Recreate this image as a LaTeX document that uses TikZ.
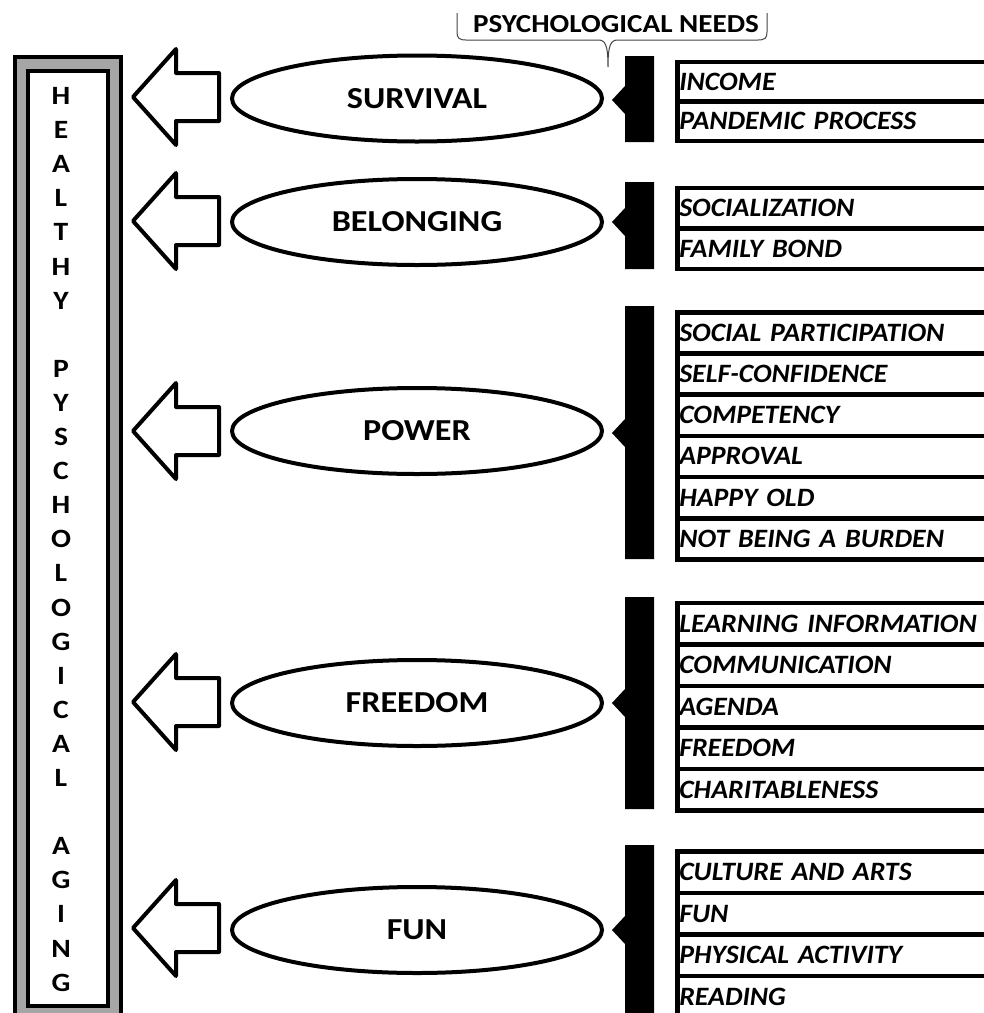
\documentclass[tikz,border=0pt]{standalone}
\usepackage{fontspec}
\setmainfont{Carlito}[FakeStretch=1.12]
\newfontfamily\itemfont{Carlito}[FakeStretch=1.05]
\usetikzlibrary{shapes.geometric}
\definecolor{framegray}{HTML}{A6A6A6}
\definecolor{bracegray}{HTML}{444444}
\tikzset{
  needell/.style={ellipse, draw, line width=4pt, minimum width=370pt, minimum height=86pt, inner sep=0pt, font=\fontsize{30.5}{36}\selectfont\bfseries},
  needitem/.style={rectangle, draw, line width=4.5pt, anchor=north west, minimum width=340pt, text width=336pt, inner sep=2pt, align=left, text height=17pt, text depth=0pt, font=\itemfont\fontsize{26.5}{32}\selectfont\bfseries\itshape},
  vletter/.style={font=\fontsize{26.4}{30}\selectfont\bfseries, inner sep=0pt},
  bigarrow/.style={draw, line width=4pt, line join=round, fill=white},
  framebox/.style={draw, line width=4pt, anchor=north west, inner sep=0pt},
}
\newcommand{\needarrow}[1]{\draw[bigarrow] (133,#1) -- (176,{#1-48}) -- (176,{#1-24}) -- (219,{#1-24}) -- (219,{#1+24}) -- (176,{#1+24}) -- (176,{#1+48}) -- cycle;}
\newcommand{\needbar}[3]{\fill[black] (654,#1) -- (625,#1) -- (625,{#3-14}) -- (612,#3) -- (625,{#3+14}) -- (625,#2) -- (654,#2) -- cycle;}
\newcommand{\needitems}[4]{\foreach \itm [count=\k from 0] in {#4} {\node[needitem, minimum height=#3pt] (#1\k) at (675,{#2+\k*#3}) {\itm};}}
\begin{document}
\begin{tikzpicture}[x=1pt, y=-1pt]
\useasboundingbox (0,0) rectangle (984,1013);
\fill[white] (0,0) rectangle (984,1013);
\clip (0,0) rectangle (984,1013);
% frame
\node[framebox, fill=framegray, minimum width=106pt, minimum height=980pt] (outer) at (13,55) {};
\node[framebox, fill=white, minimum width=80pt, minimum height=935pt] (inner) at (26,69) {};
\foreach \c/\i in {H/0,E/1,A/2,L/3,T/4,H/5,Y/6,P/8,Y/9,S/10,C/11,H/12,O/13,L/14,O/15,G/16,I/17,C/18,A/19,L/20,A/22,G/23,I/24,N/25,G/26}
  \node[vletter] (let\i) at (61,{96+34.1*\i}) {\c};
% arrows
\needarrow{97}
\needarrow{221}
\needarrow{431}
\needarrow{702}
\needarrow{928}
% ellipses
\node[needell] (surv) at (417,98.5) {SURVIVAL};
\node[needell] (bel) at (417,222) {BELONGING};
\node[needell] (pow) at (417,431) {POWER};
\node[needell] (free) at (417,703) {FREEDOM};
\node[needell] (fun) at (417,930) {FUN};
% bars
\needbar{56}{142}{100}
\needbar{182}{269}{222}
\needbar{306}{559}{433}
\needbar{597}{809}{703}
\needbar{845}{1030}{930}
% items
\needitems{si}{59.5}{39.5}{INCOME, PANDEMIC PROCESS}
\needitems{bi}{185.5}{40.5}{SOCIALIZATION, FAMILY BOND}
\needitems{pi}{310}{41.2}{SOCIAL PARTICIPATION, SELF-CONFIDENCE, COMPETENCY, APPROVAL, HAPPY OLD, NOT BEING A BURDEN}
\needitems{fi}{600.5}{41.5}{LEARNING INFORMATION, COMMUNICATION, AGENDA, FREEDOM, CHARITABLENESS}
\needitems{ui}{849}{41.5}{CULTURE AND ARTS, FUN, PHYSICAL ACTIVITY, READING}
% header
\node[anchor=west, inner sep=0pt, text height=17pt, text depth=0pt, font=\fontsize{26}{30}\selectfont\bfseries] (hdr) at (473,24) {PSYCHOLOGICAL NEEDS};
\draw[bracegray, line width=1pt] (457,13) -- (457,32) .. controls (457,38) and (459,40) .. (466,40) -- (598,40) .. controls (605,40) and (608,44) .. (608,67) .. controls (608,44) and (611,40) .. (618,40) -- (758,40) .. controls (765,40) and (767,38) .. (767,32) -- (767,13);
\end{tikzpicture}
\end{document}
